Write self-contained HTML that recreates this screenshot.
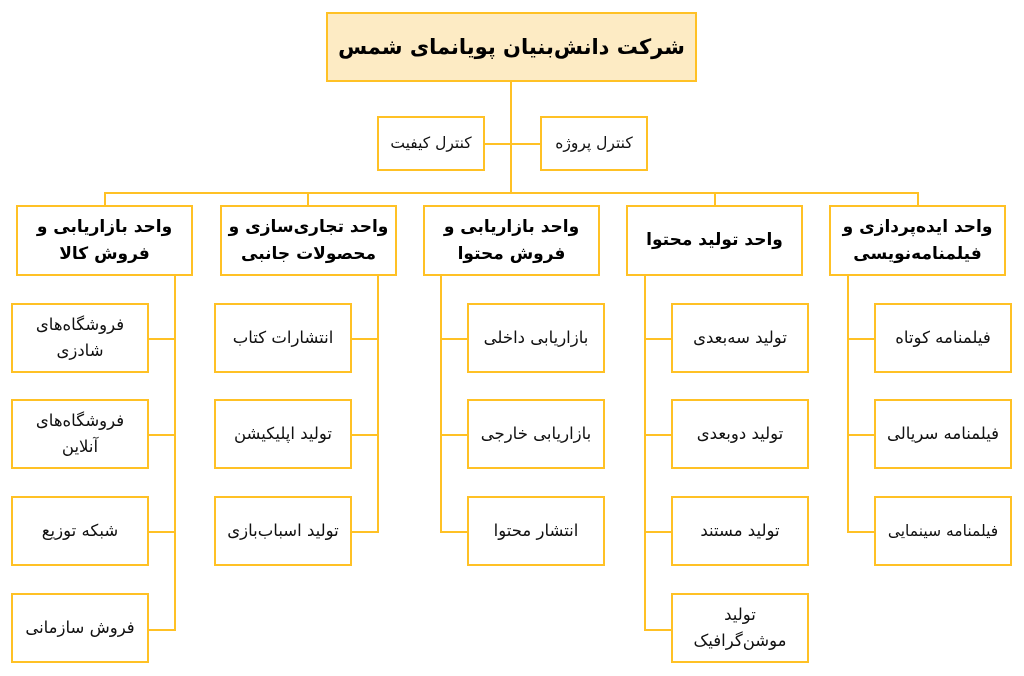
<!DOCTYPE html>
<html><head><meta charset="utf-8"><style>
body{margin:0;width:1024px;height:676px;background:#fff;position:relative;overflow:hidden;font-family:"DejaVu Sans",sans-serif;direction:rtl}
.b{position:absolute;box-sizing:border-box;border:2px solid #FFC125;background:#fff;display:flex;align-items:center;justify-content:center;text-align:center;color:#111;line-height:1.55}
.l{position:absolute;background:#FFC125}
.u{font-weight:bold;font-size:17px;color:#000}
.c{font-size:16.5px}
</style></head><body>
<div class="l" style="left:510px;top:80px;width:2px;height:114px"></div>
<div class="l" style="left:484px;top:143px;width:58px;height:2px"></div>
<div class="l" style="left:104px;top:192px;width:815px;height:2px"></div>
<div class="l" style="left:104px;top:192px;width:2px;height:15px"></div>
<div class="l" style="left:307px;top:192px;width:2px;height:15px"></div>
<div class="l" style="left:714px;top:192px;width:2px;height:15px"></div>
<div class="l" style="left:917px;top:192px;width:2px;height:15px"></div>

<div class="l" style="left:174px;top:275px;width:2px;height:356px"></div>
<div class="l" style="left:377px;top:275px;width:2px;height:258px"></div>
<div class="l" style="left:440px;top:275px;width:2px;height:258px"></div>
<div class="l" style="left:644px;top:275px;width:2px;height:356px"></div>
<div class="l" style="left:847px;top:275px;width:2px;height:258px"></div>

<div class="l" style="left:148px;top:338px;width:28px;height:2px"></div>
<div class="l" style="left:148px;top:434px;width:28px;height:2px"></div>
<div class="l" style="left:148px;top:531px;width:28px;height:2px"></div>
<div class="l" style="left:148px;top:629px;width:28px;height:2px"></div>
<div class="l" style="left:351px;top:338px;width:28px;height:2px"></div>
<div class="l" style="left:351px;top:434px;width:28px;height:2px"></div>
<div class="l" style="left:351px;top:531px;width:28px;height:2px"></div>
<div class="l" style="left:440px;top:338px;width:28px;height:2px"></div>
<div class="l" style="left:440px;top:434px;width:28px;height:2px"></div>
<div class="l" style="left:440px;top:531px;width:28px;height:2px"></div>
<div class="l" style="left:644px;top:338px;width:28px;height:2px"></div>
<div class="l" style="left:644px;top:434px;width:28px;height:2px"></div>
<div class="l" style="left:644px;top:531px;width:28px;height:2px"></div>
<div class="l" style="left:644px;top:629px;width:28px;height:2px"></div>
<div class="l" style="left:847px;top:338px;width:28px;height:2px"></div>
<div class="l" style="left:847px;top:434px;width:28px;height:2px"></div>
<div class="l" style="left:847px;top:531px;width:28px;height:2px"></div>

<div class="b" style="left:326px;top:12px;width:371px;height:70px;background:#FDEBC4;font-weight:bold;font-size:21px;color:#000;white-space:nowrap">شرکت دانش‌بنیان پویانمای شمس</div>
<div class="b c" style="left:377px;top:116px;width:108px;height:55px;font-size:15.5px;white-space:nowrap">کنترل کیفیت</div>
<div class="b c" style="left:540px;top:116px;width:108px;height:55px;font-size:15.5px;white-space:nowrap">کنترل پروژه</div>

<div class="b u" style="left:16px;top:205px;width:177px;height:71px">واحد بازاریابی و<br>فروش کالا</div>
<div class="b u" style="left:220px;top:205px;width:177px;height:71px">واحد تجاری‌سازی و<br>محصولات جانبی</div>
<div class="b u" style="left:423px;top:205px;width:177px;height:71px">واحد بازاریابی و<br>فروش محتوا</div>
<div class="b u" style="left:626px;top:205px;width:177px;height:71px">واحد تولید محتوا</div>
<div class="b u" style="left:829px;top:205px;width:177px;height:71px">واحد ایده‌پردازی و<br>فیلمنامه‌نویسی</div>

<div class="b c" style="left:11px;top:303px;width:138px;height:70px">فروشگاه‌های<br>شادزی</div>
<div class="b c" style="left:11px;top:399px;width:138px;height:70px">فروشگاه‌های<br>آنلاین</div>
<div class="b c" style="left:11px;top:496px;width:138px;height:70px">شبکه توزیع</div>
<div class="b c" style="left:11px;top:593px;width:138px;height:70px">فروش سازمانی</div>
<div class="b c" style="left:214px;top:303px;width:138px;height:70px">انتشارات کتاب</div>
<div class="b c" style="left:214px;top:399px;width:138px;height:70px">تولید اپلیکیشن</div>
<div class="b c" style="left:214px;top:496px;width:138px;height:70px">تولید اسباب‌بازی</div>
<div class="b c" style="left:467px;top:303px;width:138px;height:70px">بازاریابی داخلی</div>
<div class="b c" style="left:467px;top:399px;width:138px;height:70px">بازاریابی خارجی</div>
<div class="b c" style="left:467px;top:496px;width:138px;height:70px">انتشار محتوا</div>
<div class="b c" style="left:671px;top:303px;width:138px;height:70px">تولید سه‌بعدی</div>
<div class="b c" style="left:671px;top:399px;width:138px;height:70px">تولید دوبعدی</div>
<div class="b c" style="left:671px;top:496px;width:138px;height:70px">تولید مستند</div>
<div class="b c" style="left:671px;top:593px;width:138px;height:70px">تولید<br>موشن‌گرافیک</div>
<div class="b c" style="left:874px;top:303px;width:138px;height:70px">فیلمنامه کوتاه</div>
<div class="b c" style="left:874px;top:399px;width:138px;height:70px">فیلمنامه سریالی</div>
<div class="b c" style="left:874px;top:496px;width:138px;height:70px;font-size:15.5px">فیلمنامه سینمایی</div>
</body></html>
